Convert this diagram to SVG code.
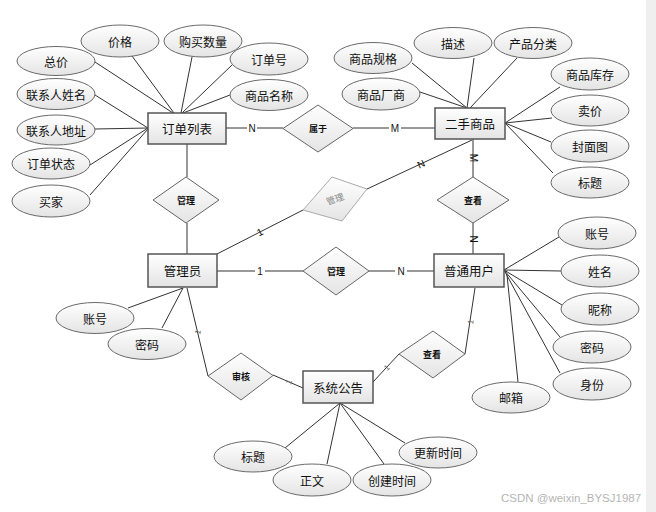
<svg xmlns="http://www.w3.org/2000/svg" width="656" height="512" viewBox="0 0 656 512">
<defs>
<linearGradient id="g" x1="0" y1="0" x2="0" y2="1"><stop offset="0" stop-color="#ffffff"/><stop offset="1" stop-color="#e4e4e4"/></linearGradient>
<style>
.e{fill:url(#g);stroke:#6a6a6a;stroke-width:1}
.r{fill:url(#g);stroke:#555;stroke-width:1.5}
.d{fill:url(#g);stroke:#666;stroke-width:1}
.dg{fill:url(#g);stroke:#aaa;stroke-width:1}
text{font-family:"Noto Sans CJK SC","Liberation Sans",sans-serif;fill:#111;text-anchor:middle;dominant-baseline:central}
.t{font-size:12px}
.te{font-size:12.5px}
.td{font-size:9px;font-weight:bold}
.l{font-family:"Liberation Sans",sans-serif;font-size:10px}
.lt{font-family:"Liberation Sans",sans-serif;font-size:8px;fill:#666}
#cn line{stroke:#333;stroke-width:1}
</style>
</defs>
<rect x="0" y="0" width="656" height="512" fill="#fff"/>
<rect x="646" y="0" width="10" height="512" fill="#efefef"/>
<g id="cn">
<line x1="95" y1="62" x2="173" y2="113"/>
<line x1="132" y1="56" x2="174" y2="113"/>
<line x1="192" y1="57" x2="181" y2="113"/>
<line x1="232" y1="65" x2="182" y2="113"/>
<line x1="230" y1="95" x2="183" y2="113"/>
<line x1="95" y1="95" x2="148" y2="128"/>
<line x1="95" y1="129" x2="148" y2="128"/>
<line x1="90" y1="165" x2="148" y2="128"/>
<line x1="90" y1="195" x2="148" y2="129"/>
<line x1="412" y1="63" x2="467" y2="108"/>
<line x1="474" y1="58" x2="467" y2="108"/>
<line x1="517" y1="58" x2="470" y2="108"/>
<line x1="420" y1="92" x2="467" y2="108"/>
<line x1="505" y1="123" x2="560" y2="87"/>
<line x1="505" y1="123" x2="552" y2="118"/>
<line x1="505" y1="123" x2="551" y2="142"/>
<line x1="505" y1="123" x2="553" y2="173"/>
<line x1="226" y1="128" x2="283" y2="128"/>
<line x1="353" y1="128" x2="435" y2="128"/>
<line x1="473" y1="139" x2="473" y2="177"/>
<line x1="473" y1="223" x2="473" y2="254"/>
<line x1="187" y1="144" x2="187" y2="177"/>
<line x1="187" y1="223" x2="187" y2="254"/>
<line x1="217" y1="271" x2="303" y2="271"/>
<line x1="369" y1="271" x2="434" y2="271"/>
<line x1="217" y1="254" x2="303" y2="210"/>
<line x1="367" y1="189" x2="472" y2="140"/>
<line x1="128" y1="308" x2="183" y2="288"/>
<line x1="162" y1="328" x2="183" y2="288"/>
<line x1="187" y1="288" x2="208" y2="376"/>
<line x1="273" y1="375" x2="303" y2="388"/>
<line x1="373" y1="382" x2="399" y2="354"/>
<line x1="465" y1="354" x2="475" y2="288"/>
<line x1="504" y1="270" x2="559" y2="237"/>
<line x1="504" y1="270" x2="561" y2="271"/>
<line x1="504" y1="270" x2="562" y2="305"/>
<line x1="504" y1="270" x2="560" y2="337"/>
<line x1="504" y1="270" x2="560" y2="373"/>
<line x1="507" y1="275" x2="518" y2="382"/>
<line x1="340" y1="403" x2="285" y2="448"/>
<line x1="340" y1="403" x2="327" y2="464"/>
<line x1="340" y1="403" x2="384" y2="464"/>
<line x1="340" y1="403" x2="405" y2="443"/>
<g fill="#fff">
<rect x="247" y="122" width="10" height="12"/>
<rect x="389" y="122" width="12" height="12"/>
<rect x="395" y="265" width="12" height="12"/>
<rect x="255" y="265" width="10" height="12"/>
</g>
<text class="l" x="252" y="128">N</text>
<text class="l" x="395" y="128">M</text>
<text class="l" x="401" y="271">N</text>
<text class="l" x="260" y="271">1</text>
<text class="l" x="473" y="158" transform="rotate(90 473 158)">M</text>
<text class="l" x="473" y="239" transform="rotate(90 473 239)">N</text>
<text class="l" x="260" y="232" transform="rotate(-27 260 232)">1</text>
<text class="l" x="421" y="164" transform="rotate(-25 421 164)">N</text>
<text class="lt" x="198" y="332" transform="rotate(-76 198 332)">1</text>
<text class="lt" x="289" y="382" transform="rotate(-67 289 382)">1</text>
<text class="lt" x="387" y="368" transform="rotate(-43 387 368)">1</text>
<text class="lt" x="471" y="322" transform="rotate(-81 471 322)">1</text>
</g>
<g id="e-dingdan"><rect class="r" x="148" y="113" width="78" height="31"/><text class="te" x="187" y="128.5">订单列表</text></g>
<g id="e-ershou"><rect class="r" x="435" y="108" width="70" height="31"/><text class="te" x="470" y="123.5">二手商品</text></g>
<g id="e-guanliyuan"><rect class="r" x="148" y="254" width="69" height="33"/><text class="te" x="182.5" y="270.5">管理员</text></g>
<g id="e-putong"><rect class="r" x="434" y="254" width="70" height="33"/><text class="te" x="469" y="270.5">普通用户</text></g>
<g id="e-gonggao"><rect class="r" x="303" y="371" width="70" height="32"/><text class="te" x="338" y="387">系统公告</text></g>
<g id="r-shuyu"><polygon class="d" points="318,105 353,128.5 318,152 283,128.5"/><text class="td" x="318" y="128.5">属于</text></g>
<g id="r-guanli1"><polygon class="d" points="186,177 219,200 186,223 153,200"/><text class="td" x="186" y="200">管理</text></g>
<g id="r-chakan1"><polygon class="d" points="473,177 509,200 473,223 437,200"/><text class="td" x="473" y="200">查看</text></g>
<g id="r-guanli2"><polygon class="d" points="336,247 369,271 336,295 303,271"/><text class="td" x="336" y="271">管理</text></g>
<g id="r-guanli3"><polygon class="dg" points="332,177 367,189 342,221 303,210"/><text x="335" y="199" style="font-size:9px;fill:#888" transform="rotate(-20 335 199)">管理</text></g>
<g id="r-shenhe"><polygon class="d" points="241,353 273,375.5 241,400 208,376"/><text class="td" x="241" y="376">审核</text></g>
<g id="r-chakan2"><polygon class="d" points="433,331 465,354 433,378 399,354"/><text class="td" x="432" y="354">查看</text></g>
<g id="a-zongjia"><ellipse class="e" cx="56" cy="61" rx="39" ry="14.5"/><text class="t" x="56" y="61">总价</text></g>
<g id="a-jiage"><ellipse class="e" cx="120" cy="41" rx="39" ry="16"/><text class="t" x="120" y="41">价格</text></g>
<g id="a-goumai"><ellipse class="e" cx="203" cy="41" rx="39" ry="16"/><text class="t" x="203" y="41">购买数量</text></g>
<g id="a-dingdanhao"><ellipse class="e" cx="269" cy="59" rx="39" ry="16"/><text class="t" x="269" y="59">订单号</text></g>
<g id="a-spmc"><ellipse class="e" cx="269" cy="95" rx="39" ry="15.5"/><text class="t" x="269" y="95">商品名称</text></g>
<g id="a-lxrxm"><ellipse class="e" cx="56" cy="94" rx="39" ry="15.5"/><text class="t" x="56" y="94">联系人姓名</text></g>
<g id="a-lxrdz"><ellipse class="e" cx="56" cy="130" rx="39" ry="15"/><text class="t" x="56" y="130">联系人地址</text></g>
<g id="a-ddzt"><ellipse class="e" cx="51" cy="163.5" rx="39" ry="15.5"/><text class="t" x="51" y="163.5">订单状态</text></g>
<g id="a-maijia"><ellipse class="e" cx="51" cy="201" rx="39" ry="16"/><text class="t" x="51" y="201">买家</text></g>
<g id="a-spgg"><ellipse class="e" cx="373" cy="58" rx="39" ry="15.5"/><text class="t" x="373" y="58">商品规格</text></g>
<g id="a-miaoshu"><ellipse class="e" cx="453" cy="43" rx="39" ry="15.5"/><text class="t" x="453" y="43">描述</text></g>
<g id="a-cpfl"><ellipse class="e" cx="533" cy="43" rx="39" ry="15.5"/><text class="t" x="533" y="43">产品分类</text></g>
<g id="a-spcs"><ellipse class="e" cx="381" cy="94" rx="39" ry="16"/><text class="t" x="381" y="94">商品厂商</text></g>
<g id="a-spkc"><ellipse class="e" cx="590" cy="74" rx="39" ry="16"/><text class="t" x="590" y="74">商品库存</text></g>
<g id="a-maijia2"><ellipse class="e" cx="590" cy="110.5" rx="39" ry="15.5"/><text class="t" x="590" y="110.5">卖价</text></g>
<g id="a-fmt"><ellipse class="e" cx="590" cy="146" rx="39" ry="16"/><text class="t" x="590" y="146">封面图</text></g>
<g id="a-biaoti1"><ellipse class="e" cx="590" cy="182.5" rx="39" ry="15.5"/><text class="t" x="590" y="182.5">标题</text></g>
<g id="a-zhanghao1"><ellipse class="e" cx="95" cy="318" rx="39" ry="15.5"/><text class="t" x="95" y="318">账号</text></g>
<g id="a-mima1"><ellipse class="e" cx="147" cy="344" rx="39" ry="15.5"/><text class="t" x="147" y="344">密码</text></g>
<g id="a-zhanghao2"><ellipse class="e" cx="597" cy="233" rx="39" ry="16"/><text class="t" x="597" y="233">账号</text></g>
<g id="a-xingming"><ellipse class="e" cx="600" cy="271" rx="39" ry="16"/><text class="t" x="600" y="271">姓名</text></g>
<g id="a-nicheng"><ellipse class="e" cx="600" cy="309" rx="39" ry="16"/><text class="t" x="600" y="309">昵称</text></g>
<g id="a-mima2"><ellipse class="e" cx="592" cy="347" rx="39" ry="16"/><text class="t" x="592" y="347">密码</text></g>
<g id="a-shenfen"><ellipse class="e" cx="592" cy="384" rx="39" ry="16"/><text class="t" x="592" y="384">身份</text></g>
<g id="a-youxiang"><ellipse class="e" cx="511" cy="397.5" rx="39" ry="15.5"/><text class="t" x="511" y="397.5">邮箱</text></g>
<g id="a-biaoti2"><ellipse class="e" cx="253" cy="456.5" rx="39" ry="15.5"/><text class="t" x="253" y="456.5">标题</text></g>
<g id="a-zhengwen"><ellipse class="e" cx="312" cy="480" rx="39" ry="16"/><text class="t" x="312" y="480">正文</text></g>
<g id="a-cjsj"><ellipse class="e" cx="392" cy="480" rx="39" ry="16"/><text class="t" x="392" y="480">创建时间</text></g>
<g id="a-gxsj"><ellipse class="e" cx="438" cy="452.5" rx="39" ry="15.5"/><text class="t" x="438" y="452.5">更新时间</text></g>
<text x="571" y="498" style="font-family:'Liberation Sans',sans-serif;font-size:11.5px;fill:#b5b5b5">CSDN @weixin_BYSJ1987</text>
</svg>
